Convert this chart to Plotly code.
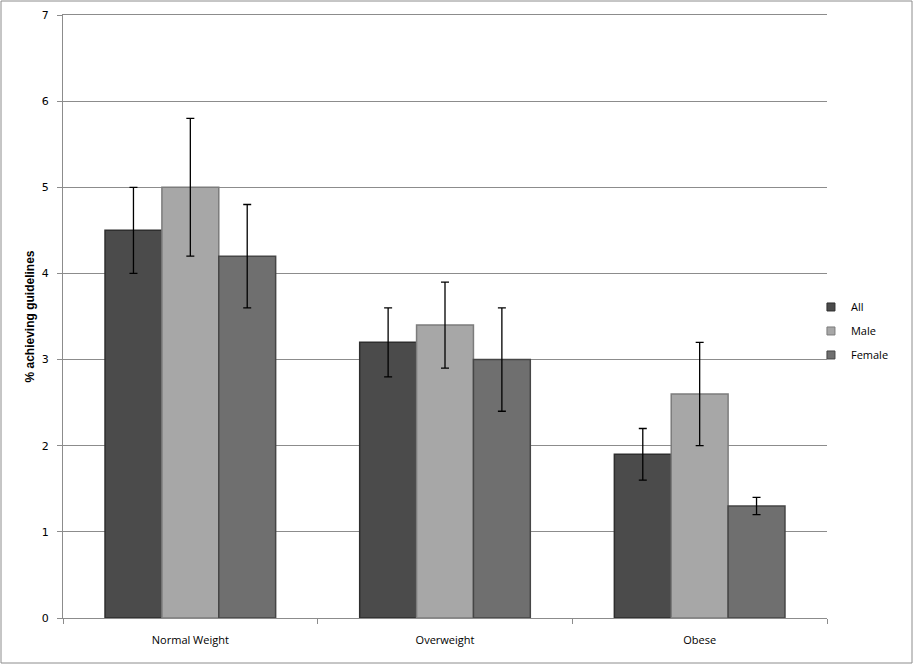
import plotly.graph_objects as go

categories = ["Normal Weight", "Overweight", "Obese"]
series_names = ["All", "Male", "Female"]
all_vals = [4.5, 3.2, 1.9]
male_vals = [5.0, 3.4, 2.6]
female_vals = [4.2, 3.0, 1.3]
all_err = [0.5, 0.4, 0.3]
male_err = [0.8, 0.5, 0.6]
female_err = [0.6, 0.6, 0.1]
y_ticks = [0, 1, 2, 3, 4, 5, 6, 7]

colors = ["#4b4b4b", "#a7a7a7", "#6f6f6f"]
edges = ["#2e2e2e", "#7c7c7c", "#464646"]

fig = go.Figure()
for name, vals, errs, col, edge in zip(series_names, [all_vals, male_vals, female_vals],
                                       [all_err, male_err, female_err], colors, edges):
    fig.add_trace(go.Bar(
        x=categories, y=vals, name=name, showlegend=False,
        marker=dict(color=col, line=dict(color=edge, width=1.5)),
        error_y=dict(type="data", array=errs, visible=True, color="black",
                     thickness=1.3, width=4),
    ))
    # small square swatch for the legend, like the original's
    fig.add_trace(go.Scatter(
        x=[None], y=[None], mode="markers", name=name, legendgroup=name,
        marker=dict(symbol="square", size=8, color=col, line=dict(color=edge, width=1)),
    ))

W, H = 913, 664
ml, mr, mt, mb = 63, 86, 15, 46
pw, ph = W - ml - mr, H - mt - mb

fig.update_layout(
    width=W, height=H,
    margin=dict(l=ml, r=mr, t=mt, b=mb, autoexpand=False),
    paper_bgcolor="white", plot_bgcolor="white",
    barmode="group", bargap=0.33, bargroupgap=0,
    font=dict(family="DejaVu Sans", size=11, color="black"),
    legend=dict(x=0.979, y=0.476, xanchor="left", yanchor="middle",
                font=dict(family="Open Sans", size=11),
                tracegroupgap=5, itemwidth=30, bgcolor="rgba(0,0,0,0)"),
    showlegend=True,
)
fig.update_yaxes(
    range=[0, 7], tickvals=y_ticks, showgrid=True, gridcolor="#8c8c8c", gridwidth=1,
    showline=True, linecolor="#8c8c8c", ticks="outside", ticklen=5, tickcolor="#8c8c8c",
    tickfont=dict(family="DejaVu Sans", size=11), zeroline=False, ticklabelstandoff=6,
    title=dict(text="<b>% achieving guidelines</b>",
               font=dict(family="Liberation Sans Narrow, Liberation Sans", size=12), standoff=4),
)
fig.update_xaxes(
    showline=True, mirror=True, linecolor="#8c8c8c", ticks="outside", tickson="boundaries",
    ticklen=5, tickcolor="#8c8c8c", tickfont=dict(family="Open Sans", size=11),
    ticklabelstandoff=12,
)
# outer chart border
fig.add_shape(type="rect", xref="paper", yref="paper",
              x0=-(ml - 1) / pw, x1=1 + (mr - 1) / pw,
              y0=-(mb - 1) / ph, y1=1 + (mt - 1) / ph,
              line=dict(color="#8c8c8c", width=1), fillcolor="rgba(0,0,0,0)")

# the page's default 8px body margin would shift the chart off the window
fig.write_html("out.html", config={"displayModeBar": False},
               post_script="document.body.style.margin='0';")
